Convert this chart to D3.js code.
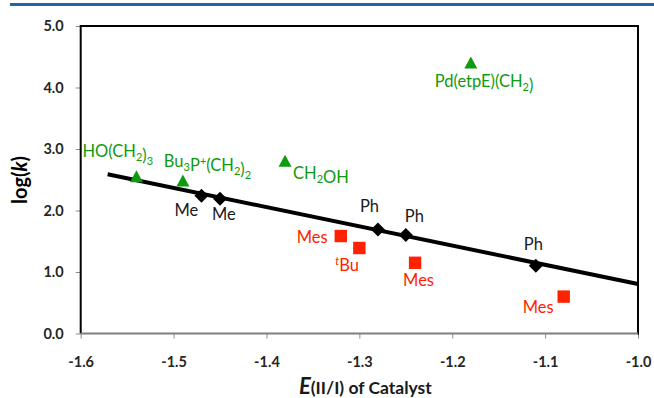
<!DOCTYPE html>
<html><head><meta charset="utf-8">
<script src="https://cdn.jsdelivr.net/npm/d3@7"></script>
<style>body{margin:0;background:#fff}svg{display:block}text{font-family:Lato,"Open Sans",sans-serif}</style>
</head><body><svg id="c" width="654" height="398"></svg>
<script>
// ---- data ----
const xTicks = [-1.6, -1.5, -1.4, -1.3, -1.2, -1.1, -1.0];
const yTicks = [0, 1, 2, 3, 4, 5];
const triX = [-1.54, -1.49, -1.38, -1.18];
const triY = [2.55, 2.48, 2.80, 4.40];
const triLabels = [["HO(CH", "2", ")", "3"], ["Bu", "3", "P⁺(CH", "2", ")", "2"], ["CH", "2", "OH"], ["Pd(etpE)(CH", "2", ")"]];
const diaX = [-1.47, -1.45, -1.28, -1.25, -1.11];
const diaY = [2.24, 2.19, 1.69, 1.60, 1.10];
const diaLabels = ["Me", "Me", "Ph", "Ph", "Ph"];
const sqX = [-1.32, -1.30, -1.24, -1.08];
const sqY = [1.585, 1.39, 1.15, 0.60];
const sqLabels = ["Mes", "tBu", "Mes", "Mes"];
const fitX = [-1.571, -1.0];
const fitY = [2.59, 0.805];

// ---- layout (label offsets relative to marker, px) ----
const triOff = [[-54, -20], [-19, -14], [8, 18], [-36, 24]];
const diaOff = [[-27, 20], [-8, 21], [-18, -18], [-1, -13], [-12, -16]];
const sqOff = [[-44, 7], [-24, 23], [-12, 23], [-41, 16]];

const svg = d3.select("#c");
const L = 80.7, R = 638, T = 26, B = 333.5;
const x = d3.scaleLinear().domain([-1.6, -1.0]).range([L, R]);
const y = d3.scaleLinear().domain([0, 5]).range([B, T]);
const GREEN = "#0f9a0f", RED = "#ff2200";

// top blue rule
svg.append("rect").attr("x", 10).attr("y", 3).attr("width", 644).attr("height", 3).attr("fill", "#1e64a6");

// axes
const xa = svg.append("g").attr("transform", `translate(0,${B})`)
  .call(d3.axisBottom(x).tickValues(xTicks).tickFormat(d3.format(".1f")).tickSize(5).tickPadding(18));
const ya = svg.append("g").attr("transform", `translate(${L},0)`)
  .call(d3.axisLeft(y).tickValues(yTicks).tickFormat(d3.format(".1f")).tickSize(5).tickPadding(12));
[xa, ya].forEach(a => {
  a.select(".domain").remove();
  a.selectAll(".tick line").attr("stroke", "#8c8c8c").attr("stroke-width", 1);
  a.selectAll(".tick text").attr("fill", "#262626").attr("font-size", 14.5).attr("font-weight", "bold")
    .style("font-family", "Lato, sans-serif").text(d => d3.format(".1f")(d).replace("−", "-"));
});

// plot border
svg.append("line").attr("x1", L).attr("x2", R).attr("y1", T).attr("y2", T).attr("stroke", "#000").attr("stroke-width", 2);
svg.append("line").attr("x1", L).attr("x2", L).attr("y1", T - 1).attr("y2", B).attr("stroke", "#000").attr("stroke-width", 2);
svg.append("line").attr("x1", R).attr("x2", R).attr("y1", T - 1).attr("y2", B + 1).attr("stroke", "#000").attr("stroke-width", 2);
svg.append("line").attr("x1", L).attr("x2", R).attr("y1", B).attr("y2", B).attr("stroke", "#7f7f7f").attr("stroke-width", 2);

// fit line
svg.append("line").attr("x1", x(fitX[0])).attr("y1", y(fitY[0])).attr("x2", x(fitX[1])).attr("y2", y(fitY[1]))
  .attr("stroke", "#000").attr("stroke-width", 4);

// markers
svg.selectAll(".tri").data(triX).join("path")
  .attr("transform", (d, i) => `translate(${x(d)},${y(triY[i])})`)
  .attr("d", "M0,-6.5 L6.5,5.5 L-6.5,5.5 Z").attr("fill", GREEN);
svg.selectAll(".dia").data(diaX).join("path")
  .attr("transform", (d, i) => `translate(${x(d)},${y(diaY[i])})`)
  .attr("d", "M0,-7 L7,0 L0,7 L-7,0 Z").attr("fill", "#000");
svg.selectAll(".sq").data(sqX).join("rect")
  .attr("x", (d) => x(d) - 6.2).attr("y", (d, i) => y(sqY[i]) - 6.2)
  .attr("width", 12.4).attr("height", 12.4).attr("fill", RED);

// labels
const FS = 16.5;
function label(px, py, off, color) {
  return svg.append("text").attr("x", px + off[0]).attr("y", py + off[1]).attr("fill", color).attr("font-size", FS);
}
triX.forEach((d, i) => {
  const t = label(x(d), y(triY[i]), triOff[i], GREEN);
  triLabels[i].forEach(p => {
    if (p.includes("⁺")) {
      const [a, b] = p.split("⁺");
      t.append("tspan").text(a);
      t.append("tspan").attr("dy", -6).attr("font-size", 11).text("+");
      t.append("tspan").attr("dy", 6).text(b);
    } else if (/^\d$/.test(p)) {
      t.append("tspan").attr("dy", 4).attr("font-size", 11).text(p);
      t.append("tspan").attr("dy", -4).text("");
    } else {
      t.append("tspan").text(p);
    }
  });
});
diaX.forEach((d, i) => {
  label(x(d), y(diaY[i]), diaOff[i], "#1a1a1a").text(diaLabels[i]);
});
sqX.forEach((d, i) => {
  const t = label(x(d), y(sqY[i]), sqOff[i], RED);
  if (sqLabels[i] === "tBu") {
    t.append("tspan").attr("dy", -6).attr("font-size", 11).attr("font-style", "italic").text("t");
    t.append("tspan").attr("dy", 6).text("Bu");
  } else t.text(sqLabels[i]);
});

// axis titles
const yt = svg.append("text").attr("transform", "translate(27,180) rotate(-90)").attr("text-anchor", "middle")
  .attr("font-size", 20).attr("font-weight", "bold").attr("fill", "#000");
yt.append("tspan").text("log(");
yt.append("tspan").attr("font-style", "italic").text("k");
yt.append("tspan").text(")");
const xt = svg.append("text").attr("x", 299).attr("y", 394).attr("font-weight", "bold").attr("fill", "#1a1a1a").attr("font-size", 17.5);
xt.append("tspan").attr("font-style", "italic").attr("font-size", 22).text("E");
xt.append("tspan").text("(II/I) of Catalyst");
</script></body></html>
